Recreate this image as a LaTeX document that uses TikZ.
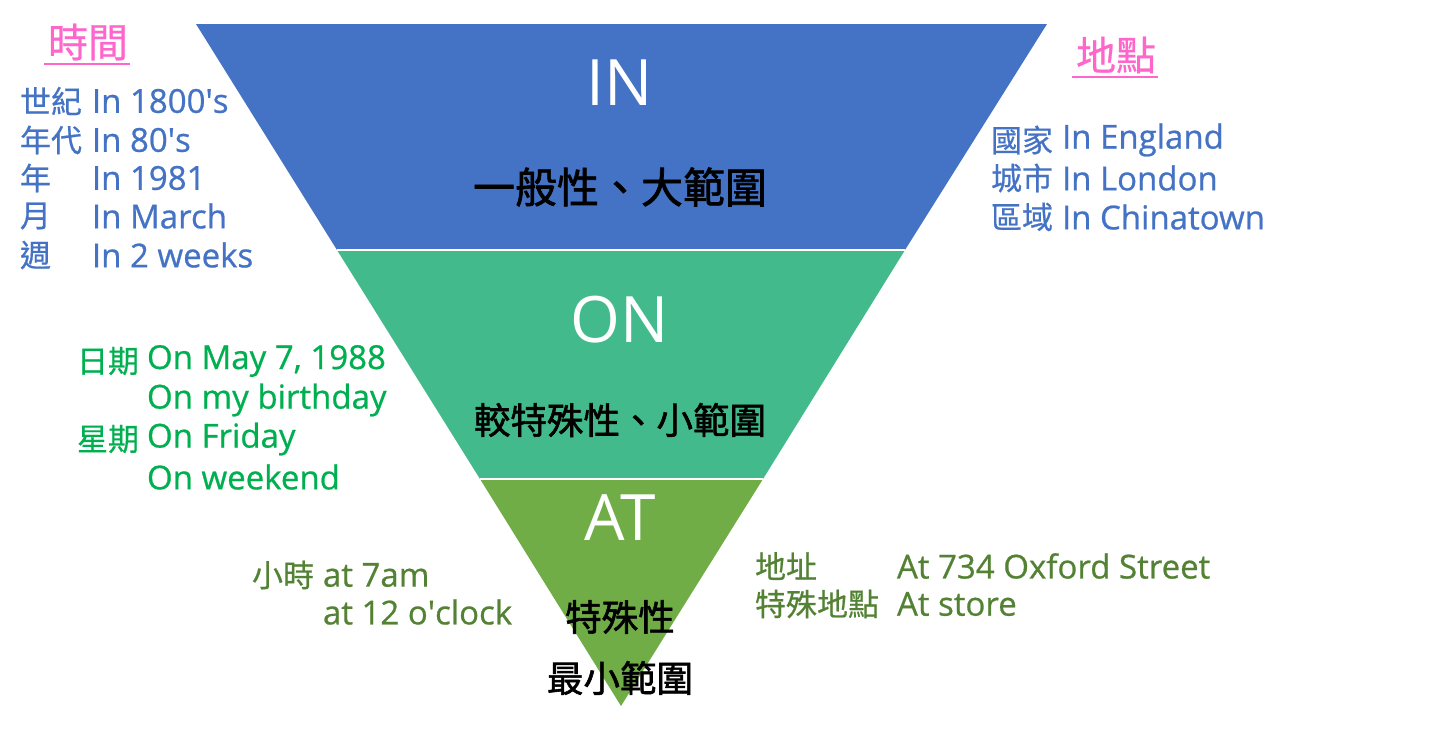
\documentclass[tikz,border=0pt]{standalone}
\usepackage{fontspec}
\setmainfont{Open Sans}[FakeBold=0.7]
\newfontfamily\bigfont{Open Sans}
\newfontfamily\cjk{Noto Sans CJK TC}[FakeBold=0.6]
\newfontfamily\cjkheavy{Noto Sans CJK TC}[FakeBold=1.6]
\usetikzlibrary{positioning}

\definecolor{inblue}{HTML}{4472C4}
\definecolor{onteal}{HTML}{43BA8B}
\definecolor{atgreen}{HTML}{70AD47}
\definecolor{ontext}{HTML}{00B050}
\definecolor{attext}{HTML}{548235}
\definecolor{titlepink}{HTML}{FF66CC}

\begin{document}
\begin{tikzpicture}[x=1pt,y=-1pt,inner sep=0pt,outer sep=0pt]
	  \tikzstyle{big}=[text=white,font=\bigfont\fontsize{64}{70}\selectfont]
	  \tikzstyle{scope text}=[text=black,font=\cjkheavy\fontsize{36.5}{42}\selectfont]
	  \tikzstyle{item}=[anchor=west,font=\fontsize{33}{36}\selectfont]
	  \tikzstyle{label}=[item,font=\cjk\fontsize{31}{36}\selectfont]
	  \tikzstyle{title}=[text=titlepink,font=\cjk\fontsize{40}{44}\selectfont]

	  \useasboundingbox (0,0) rectangle (1442,739);

	  % the three layers
	  \fill[inblue]  (196,24) -- (1047,24) -- (905,250) -- (337,250) -- cycle;
	  \fill[onteal]  (337,250) -- (905,250) -- (763,479) -- (480,479) -- cycle;
	  \fill[atgreen] (480,479) -- (763,479) -- (621,706) -- cycle;
	  \draw[white,line width=1.5pt] (337,250) -- (905,250) (480,479) -- (763,479);

	  \node[big]        (in)     at (620,83)  {IN};
	  \node[scope text,font=\cjkheavy\fontsize{42}{46}\selectfont] (in-d) at (620,187) {一般性、大範圍};
	  \node[big]        (on)     at (620,320) {ON};
	  \node[scope text] (on-d)   at (620,420) {較特殊性、小範圍};
	  \node[big]        (at)     at (620,518) {AT};
	  \node[scope text] (at-d1)  at (620,617) {特殊性};
	  \node[scope text] (at-d2)  at (620,678) {最小範圍};

	  % titles
	  \node[title] (time)  at (88,42)   {時間};
	  \node[title] (place) at (1116,55) {地點};
	  \draw[titlepink,line width=2pt] (time.south west) ++(-4,4) -- ++(86,0);
	  \draw[titlepink,line width=2pt] (place.south west) ++(-4,4) -- ++(86,0);

	  % IN: time
	  \node[label,text=inblue] (t1)  at (20,101) {世紀};
	  \node[item,text=inblue]  (t1v) at (92,101) {In 1800\textquotesingle s};
	  \node[label,text=inblue] (t2)  at (20,140) {年代};
	  \node[item,text=inblue]  (t2v) at (92,140) {In 80\textquotesingle s};
	  \node[label,text=inblue] (t3)  at (20,178) {年};
	  \node[item,text=inblue]  (t3v) at (92,178) {In 1981};
	  \node[label,text=inblue] (t4)  at (20,216) {月};
	  \node[item,text=inblue]  (t4v) at (92,216) {In March};
	  \node[label,text=inblue] (t5)  at (20,255) {週};
	  \node[item,text=inblue]  (t5v) at (92,255) {In 2 weeks};

	  % IN: place
	  \node[label,text=inblue] (p1)  at (991,140)  {國家};
	  \node[item,text=inblue]  (p1v) at (1062,140) {In England};
	  \node[label,text=inblue] (p2)  at (991,178)  {城市};
	  \node[item,text=inblue]  (p2v) at (1062,178) {In London};
	  \node[label,text=inblue] (p3)  at (991,217)  {區域};
	  \node[item,text=inblue]  (p3v) at (1062,217) {In Chinatown};

	  % ON
	  \node[label,text=ontext] (o1)  at (77,361)  {日期};
	  \node[item,text=ontext]  (o1v) at (147,361) {On May 7, 1988};
	  \node[item,text=ontext]  (o2v) at (147,400) {On my birthday};
	  \node[label,text=ontext] (o3)  at (77,439)  {星期};
	  \node[item,text=ontext]  (o3v) at (147,439) {On Friday};
	  \node[item,text=ontext]  (o4v) at (147,477) {On weekend};

	  % AT
	  \node[label,text=attext] (a1)  at (252,575) {小時};
	  \node[item,text=attext]  (a1v) at (323,575) {at 7am};
	  \node[item,text=attext]  (a2v) at (323,612) {at 12 o\textquotesingle clock};
	  \node[label,text=attext] (b1)  at (755,566) {地址};
	  \node[item,text=attext]  (b1v) at (897,566) {At 734 Oxford Street};
	  \node[label,text=attext] (b2)  at (755,604) {特殊地點};
	  \node[item,text=attext]  (b2v) at (897,604) {At store};
\end{tikzpicture}
\end{document}
